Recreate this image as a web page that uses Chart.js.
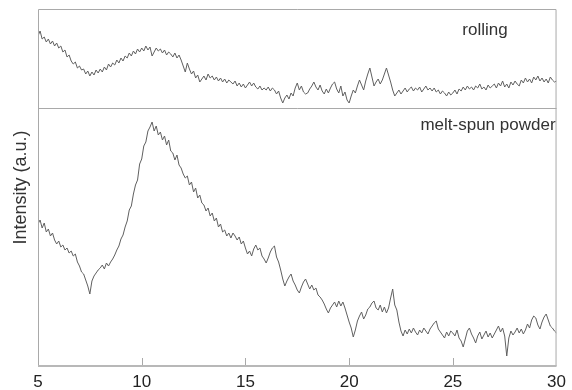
<!DOCTYPE html>
<html>
<head>
<meta charset="utf-8">
<script src="https://cdn.jsdelivr.net/npm/chart.js@4"></script>
<style>
  html, body { margin: 0; padding: 0; background: #fff; }
  #wrap { width: 572px; height: 390px; }
</style>
</head>
<body>
<div id="wrap"><canvas id="xrd"></canvas></div>
<script>
// 2-theta sampling: 5 .. 30 deg, step 0.1
const angleStart = 5, angleStep = 0.1, nPoints = 251;
const twoTheta = Array.from({ length: nPoints }, (_, i) => +(angleStart + i * angleStep).toFixed(1));

const xTicks = [5, 10, 15, 20, 25, 30];
const panelNames = ['rolling', 'melt-spun powder'];
const panelSplit = 258;   // intensity level where the two panels meet
const yMax = 357;

// rolling (upper panel), arbitrary units
const rolling = [
  330, 335, 327, 329, 324, 327, 322, 325, 320, 323,
  318, 320, 314, 316, 309, 311, 305, 302, 304, 298,
  300, 296, 297, 292, 295, 290, 294, 291, 296, 293,
  297, 294, 299, 296, 302, 299, 303, 301, 306, 303,
  308, 305, 310, 308, 313, 310, 315, 312, 317, 314,
  318, 315, 320, 316, 319, 310, 314, 318, 315, 317,
  313, 316, 311, 314, 312, 309, 313, 308, 311, 306,
  300, 294, 303, 297, 292, 295, 288, 291, 284, 287,
  290, 286, 292, 288, 290, 286, 289, 285, 288, 284,
  287, 283, 286, 284, 282, 285, 280, 283, 279, 282,
  278, 281, 284, 280, 283, 279, 277, 280, 276, 278,
  276, 279, 275, 278, 276, 272, 275, 268, 263, 268,
  271, 267, 273, 270, 278, 283, 276, 280, 274, 272,
  273, 277, 280, 284, 279, 276, 281, 275, 272, 277,
  273, 278, 282, 284, 277, 273, 280, 270, 274, 266,
  263, 270, 276, 273, 280, 286, 281, 276, 285, 292,
  298, 289, 280, 284, 287, 282, 286, 292, 298, 291,
  284, 276, 270, 273, 276, 272, 275, 278, 274, 277,
  279, 275, 278, 276, 279, 274, 277, 280, 276, 278,
  275, 278, 274, 276, 272, 275, 273, 270, 274, 271,
  273, 276, 272, 277, 275, 279, 276, 280, 277, 279,
  276, 280, 278, 282, 277, 279, 276, 281, 278, 280,
  282, 278, 283, 280, 285, 279, 282, 278, 284, 281,
  285, 282, 280, 286, 283, 288, 284, 287, 283, 289,
  286, 290, 285, 288, 284, 287, 283, 289, 286, 284,
  285
];

// melt-spun powder (lower panel), arbitrary units
const meltSpun = [
  142, 146, 138, 143, 134, 137, 130, 133, 126, 122,
  125, 119, 121, 116, 118, 113, 115, 110, 112, 104,
  100, 94, 92, 86, 80, 72, 85, 90, 93, 96,
  98, 101, 97, 103, 100, 104, 107, 111, 116, 120,
  127, 131, 139, 145, 156, 160, 172, 181, 186, 202,
  207, 220, 224, 235, 239, 244, 235, 240, 231, 234,
  226, 230, 221, 226, 215, 213, 206, 211, 201, 198,
  192, 188, 190, 181, 184, 174, 178, 168, 171, 163,
  161, 155, 158, 150, 153, 145, 148, 139, 142, 134,
  136, 130, 133, 128, 133, 130, 126, 129, 122, 125,
  118, 112, 115, 110, 117, 121, 116, 118, 110, 107,
  103, 108, 114, 118, 120, 109, 104, 96, 87, 80,
  85, 89, 92, 85, 81, 76, 73, 79, 84, 87,
  82, 77, 81, 76, 78, 71, 69, 66, 62, 57,
  53, 58, 61, 64, 59, 65, 60, 64, 58, 51,
  44, 38, 29, 36, 45, 50, 54, 47, 51, 57,
  59, 63, 65, 58, 56, 61, 54, 59, 53, 58,
  68, 77, 61, 56, 44, 35, 30, 36, 32, 37,
  33, 38, 34, 31, 36, 33, 38, 35, 32, 37,
  40, 43, 45, 37, 34, 31, 28, 34, 30, 35,
  33, 30, 36, 28, 25, 19, 27, 35, 38, 32,
  28, 23, 30, 34, 27, 31, 35, 29, 33, 28,
  32, 36, 40, 34, 38, 30, 10, 28, 35, 31,
  34, 38, 33, 37, 32, 36, 42, 38, 46, 50,
  48, 41, 37, 44, 49, 52, 46, 40, 38, 35,
  33
];

const toPoints = arr => arr.map((v, i) => ({ x: twoTheta[i], y: v }));

// frame, panel divider, inner tick marks and panel captions
const framePlugin = {
  id: 'frame',
  afterDatasetsDraw(chart) {
    const { ctx, chartArea: a, scales: { x, y } } = chart;
    const ySplit = Math.round(y.getPixelForValue(panelSplit)) + 0.5;
    ctx.save();
    ctx.strokeStyle = '#a9a9a9';
    ctx.lineWidth = 1;
    ctx.beginPath();
    ctx.moveTo(a.left + 0.5, a.bottom);
    ctx.lineTo(a.left + 0.5, a.top + 0.5);
    ctx.lineTo(a.right - 0.5, a.top + 0.5);
    ctx.lineTo(a.right - 0.5, a.bottom);
    ctx.moveTo(a.left, ySplit);
    ctx.lineTo(a.right, ySplit);
    xTicks.slice(1, -1).forEach(t => {
      const px = Math.round(x.getPixelForValue(t)) + 0.5;
      ctx.moveTo(px, a.bottom);
      ctx.lineTo(px, a.bottom - 8);
    });
    ctx.stroke();
    ctx.strokeStyle = '#b8b8b8';
    ctx.lineWidth = 2;
    ctx.beginPath();
    ctx.moveTo(a.left, a.bottom);
    ctx.lineTo(a.right, a.bottom);
    ctx.stroke();

    ctx.fillStyle = '#333';
    ctx.font = '17px "Liberation Sans", Arial, sans-serif';
    ctx.textBaseline = 'middle';
    ctx.textAlign = 'center';
    ctx.fillText(panelNames[0], x.getPixelForValue(26.55), a.top + 21);
    ctx.textAlign = 'right';
    ctx.fillText(panelNames[1], a.right - 1, ySplit + 17);
    ctx.restore();
  }
};

new Chart(document.getElementById('xrd'), {
  type: 'line',
  data: {
    datasets: [
      { label: panelNames[0], data: toPoints(rolling) },
      { label: panelNames[1], data: toPoints(meltSpun) }
    ]
  },
  options: {
    responsive: true,
    maintainAspectRatio: false,
    animation: false,
    layout: { padding: { top: 9, right: 14, left: 0, bottom: 0 } },
    elements: {
      line: { borderColor: '#606060', borderWidth: 1, tension: 0 },
      point: { radius: 0 }
    },
    plugins: { legend: { display: false }, tooltip: { enabled: false } },
    scales: {
      x: {
        type: 'linear',
        min: 5, max: 30,
        afterBuildTicks: s => { s.ticks = xTicks.map(v => ({ value: v })); },
        afterFit: s => { s.height = 24; },
        grid: { display: false, drawTicks: false },
        border: { display: false },
        ticks: {
          color: '#222',
          padding: 6,
          font: { family: '"Liberation Sans", Arial, sans-serif', size: 17 }
        }
      },
      y: {
        min: 0, max: yMax,
        afterFit: s => { s.width = 38; },
        grid: { display: false, drawTicks: false },
        border: { display: false },
        ticks: { display: false },
        title: {
          display: true,
          text: 'Intensity (a.u.)',
          color: '#333',
          padding: { top: 10, bottom: 0 },
          font: { family: '"Liberation Sans", Arial, sans-serif', size: 18 }
        }
      }
    }
  },
  plugins: [framePlugin]
});
</script>
</body>
</html>
